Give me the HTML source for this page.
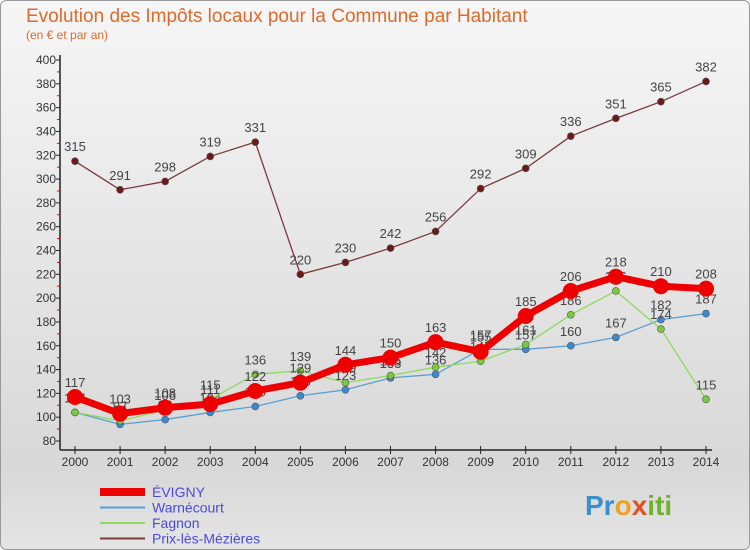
<!DOCTYPE html>
<html><head><meta charset="utf-8"><style>
body{margin:0;width:750px;height:550px;overflow:hidden;font-family:"Liberation Sans",sans-serif}
#wrap{position:absolute;left:0;top:0;width:748px;height:548px;border:1px solid #999;border-radius:6px;background:linear-gradient(#f6f6f6,#d8d8d8 85%,#e4e4e4)}
</style></head><body>
<div id="wrap">
<svg id="c" width="750" height="550" style="position:absolute;left:-1px;top:-1px">
<text x="26" y="22" font-size="19" fill="#e06a2a">Evolution des Impôts locaux pour la Commune par Habitant</text>
<text x="26" y="39" font-size="12" fill="#e06a2a">(en € et par an)</text>
<g id="axes"></g><g id="series"></g><g id="legend"></g>
<text x="585" y="515" font-size="28" font-weight="bold"><tspan fill="#3a8fd0">Pr</tspan><tspan fill="#f0a020">o</tspan><tspan fill="#e05020">x</tspan><tspan fill="#70b030">iti</tspan></text>
</svg></div>
<script>
const years=[2000,2001,2002,2003,2004,2005,2006,2007,2008,2009,2010,2011,2012,2013,2014];
const evigny=[117,103,108,111,122,129,144,150,163,155,185,206,218,210,208];
const warnecourt=[104,94,98,104,109,118,123,133,136,157,157,160,167,182,187];
const fagnon=[104,97,106,115,136,139,129,135,142,147,161,186,206,174,115];
const prix=[315,291,298,319,331,220,230,242,256,292,309,336,351,365,382];
const yTicks=[80,100,120,140,160,180,200,220,240,260,280,300,320,340,360,380,400];
const NS="http://www.w3.org/2000/svg";
const X=i=>75+i*(706-75)/14;
const Y=v=>441-(v-80)*(441-60)/320;
function mk(t,a,p){const e=document.createElementNS(NS,t);for(const k in a)e.setAttribute(k,a[k]);p.appendChild(e);return e;}
const ax=document.getElementById('axes');
const yl=mk('line',{x1:60,y1:55,x2:60,y2:450,stroke:'#222','stroke-width':1.5},ax);


const xl=mk('line',{x1:60,y1:450,x2:712,y2:450,stroke:'#222','stroke-width':1.5},ax);


yTicks.forEach((v,i)=>{
 mk('line',{x1:56,y1:Y(v),x2:60,y2:Y(v),stroke:'#222'},ax);
 if(i<yTicks.length-1)mk('line',{x1:57,y1:Y(v+10),x2:60,y2:Y(v+10),stroke:'#e00'},ax);
 const t=mk('text',{x:56,y:Y(v)+4,'font-size':12,fill:'#333','text-anchor':'end'},ax);t.textContent=v;
 
 
});
years.forEach((y,i)=>{
 mk('line',{x1:X(i),y1:446,x2:X(i),y2:454,stroke:'#222'},ax);
 const t=mk('text',{x:X(i),y:466,'font-size':12,fill:'#333','text-anchor':'middle'},ax);t.textContent=y;
 
 
});
const sg=document.getElementById('series');
function series(data,color,w,r,dot,name){
 const g=mk('g',{},sg);
 
 
 mk('polyline',{points:data.map((v,i)=>X(i)+','+Y(v)).join(' '),fill:'none',stroke:color,'stroke-width':w,'stroke-linejoin':'round'},g);
 data.forEach((v,i)=>{
  const c=mk('circle',{cx:X(i),cy:Y(v),r:r,fill:dot,stroke:'#555','stroke-width':r>6?0:0.6},g);
  
  
  const t=mk('text',{x:X(i),y:Y(v)-10,'font-size':13,fill:'#444','text-anchor':'middle'},g);t.textContent=v;
 });
}
series(prix,'#7a3a3a',1.3,3.5,'#6a1a1a','series-prix-les-mezieres');
series(warnecourt,'#5a9fd4',1.3,3.5,'#3a8ad0','series-warnecourt');
series(fagnon,'#90d860',1.3,3.5,'#78cc3c','series-fagnon');
series(evigny,'#ee0000',7,8,'#ee0000','series-evigny');
const lg=document.getElementById('legend');
[['ÉVIGNY','#ee0000',8],['Warnécourt','#5a9fd4',2],['Fagnon','#90d860',2],['Prix-lès-Mézières','#7a3a3a',2]].forEach((d,i)=>{
 const y=492+i*15.5;
 const g=mk('g',{},lg);
 
 
 mk('line',{x1:100,y1:y,x2:145,y2:y,stroke:d[1],'stroke-width':d[2]},g);
 const t=mk('text',{x:152,y:y+5,'font-size':14,fill:'#4a4ae0'},g);t.textContent=d[0];
});
</script>
</body></html>
